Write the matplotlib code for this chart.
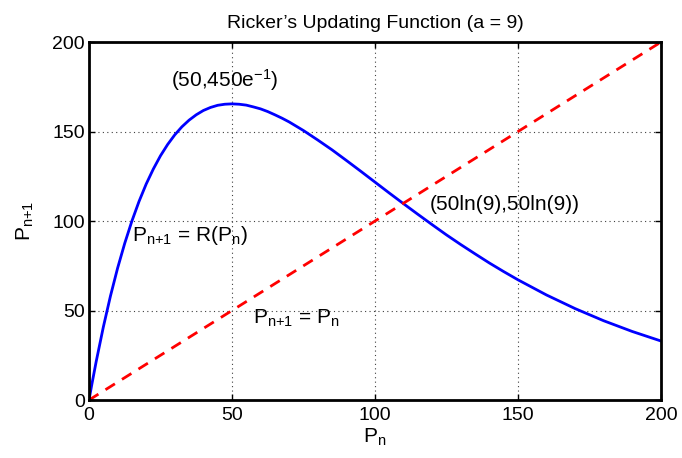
import matplotlib
matplotlib.use("Agg")
import matplotlib.pyplot as plt

plt.rcParams["font.family"] = ["Liberation Sans", "DejaVu Sans"]
plt.rcParams["mathtext.default"] = "regular"

# Ricker curve values (a = 9)
pn = [0, 1, 2.5, 5, 7.5, 10, 12.5, 15, 17.5, 20, 22.5, 25, 27.5, 30, 32.5, 35,
      37.5, 40, 42.5, 45, 47.5, 50, 52.5, 55, 57.5, 60, 62.5, 65, 67.5, 70,
      75, 80, 85, 90, 95, 100, 105, 110, 115, 120, 125, 130, 135, 140, 145,
      150, 160, 170, 180, 190, 200]
rp = [0, 8.8, 21.4, 40.7, 58.1, 73.7, 87.6, 100.0, 111.0, 120.7, 129.1, 136.5,
      142.8, 148.2, 152.7, 156.4, 159.4, 161.8, 163.5, 164.7, 165.3, 165.5,
      165.3, 164.8, 163.8, 162.7, 161.2, 159.4, 157.5, 155.4, 150.6, 145.3,
      139.8, 133.9, 127.9, 121.8, 115.7, 109.7, 103.8, 98.0, 92.3, 86.9, 81.7,
      76.6, 71.8, 67.2, 58.7, 51.1, 44.3, 38.3, 33.0]
diag_x = [0, 200]
diag_y = [0, 200]

fig = plt.figure(figsize=(6.82, 4.58), dpi=100)
ax = fig.add_axes([0.1305, 0.1266, 0.8385, 0.7814])

ax.plot(pn, rp, color="#0000ff", linewidth=2)
ax.plot(diag_x, diag_y, color="#ff0000", linewidth=2, linestyle=(0, (4, 3)))

ax.set_xlim(0, 200)
ax.set_ylim(0, 200)
ax.set_xticks([0, 50, 100, 150, 200])
ax.set_yticks([0, 50, 100, 150, 200])
ax.tick_params(direction="in", top=True, right=True, labelsize=14, length=4,
               width=1)
ax.tick_params(axis="x", pad=5)
ax.tick_params(axis="y", pad=3)
ax.grid(True, linestyle=(0, (1, 3)), color="#404040", linewidth=0.8)
for s in ax.spines.values():
    s.set_linewidth(2)

ax.set_title("Ricker\u2019s Updating Function (a = 9)", fontsize=14, pad=10)
ax.set_xlabel("$P_n$", fontsize=15, labelpad=2)
ax.set_ylabel("$P_{n{+}1}$", fontsize=15, labelpad=12)

ax.text(47.5, 179, "(50,450e$^{-1}$)", fontsize=15, ha="center", va="center")
ax.text(15, 92, "$P_{n{+}1}$ = R($P_n$)", fontsize=15, ha="left", va="center")
ax.text(119, 109.5, "(50ln(9),50ln(9))", fontsize=15, ha="left", va="center")
ax.text(57.5, 45.5, "$P_{n{+}1}$ = $P_n$", fontsize=15, ha="left", va="center")

fig.savefig("out.png", dpi=100)
